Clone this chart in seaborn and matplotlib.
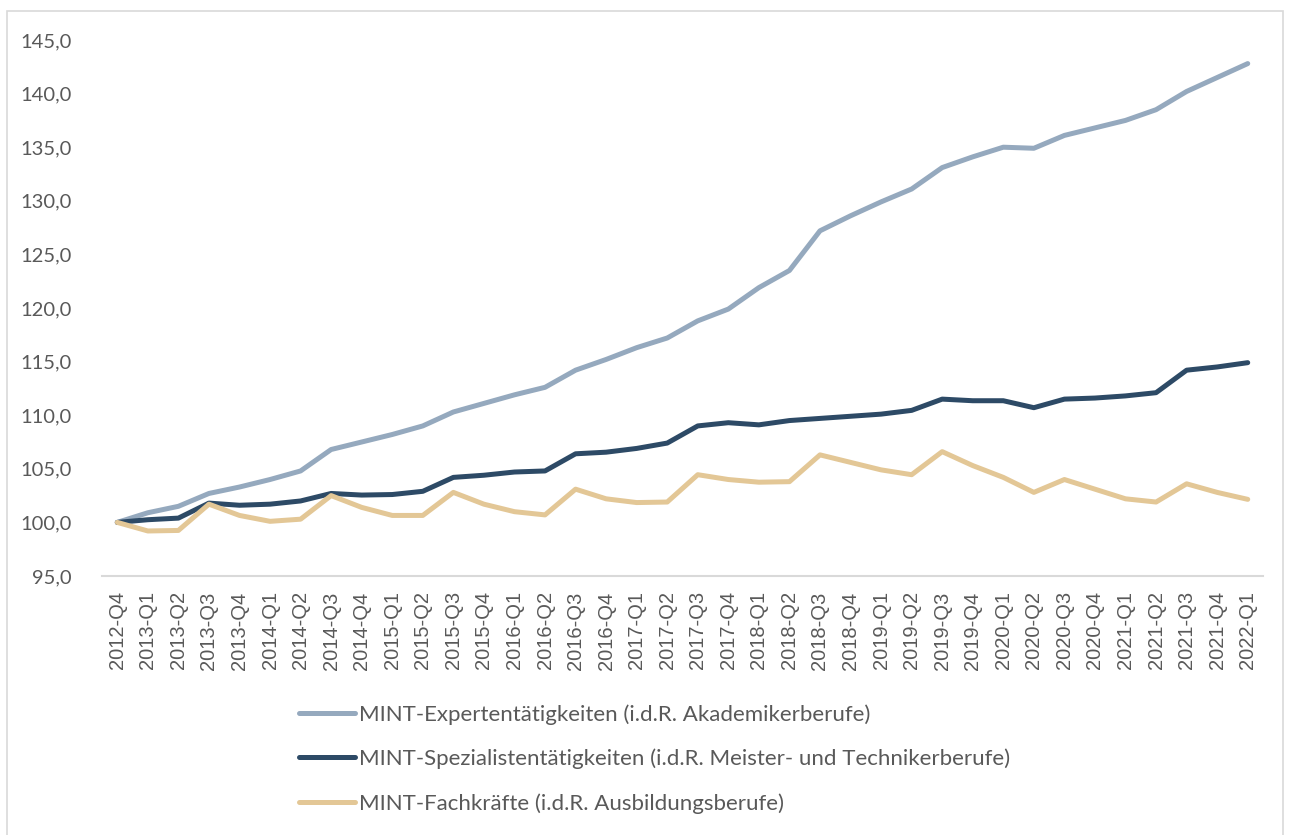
import numpy as np
import pandas as pd
import seaborn as sns
import matplotlib.pyplot as plt
from matplotlib.patches import Rectangle

quarters = [
    "2012-Q4",
    "2013-Q1", "2013-Q2", "2013-Q3", "2013-Q4",
    "2014-Q1", "2014-Q2", "2014-Q3", "2014-Q4",
    "2015-Q1", "2015-Q2", "2015-Q3", "2015-Q4",
    "2016-Q1", "2016-Q2", "2016-Q3", "2016-Q4",
    "2017-Q1", "2017-Q2", "2017-Q3", "2017-Q4",
    "2018-Q1", "2018-Q2", "2018-Q3", "2018-Q4",
    "2019-Q1", "2019-Q2", "2019-Q3", "2019-Q4",
    "2020-Q1", "2020-Q2", "2020-Q3", "2020-Q4",
    "2021-Q1", "2021-Q2", "2021-Q3", "2021-Q4",
    "2022-Q1",
]

experten = [
    100.0, 100.9, 101.5, 102.7, 103.3, 104.0, 104.8, 106.8, 107.5, 108.2,
    109.0, 110.3, 111.1, 111.9, 112.6, 114.2, 115.2, 116.3, 117.2, 118.8,
    119.9, 121.9, 123.5, 127.2, 128.6, 129.9, 131.1, 133.1, 134.1, 135.0,
    134.9, 136.1, 136.8, 137.5, 138.5, 140.2, 141.5, 142.8,
]
spezialisten = [
    100.0, 100.25, 100.4, 101.8, 101.6, 101.7, 102.0, 102.7, 102.55, 102.6,
    102.9, 104.2, 104.4, 104.7, 104.8, 106.4, 106.55, 106.9, 107.4, 109.0,
    109.3, 109.1, 109.5, 109.7, 109.9, 110.1, 110.45, 111.5, 111.35, 111.35,
    110.7, 111.5, 111.6, 111.8, 112.1, 114.2, 114.5, 114.9,
]
fachkraefte = [
    100.0, 99.2, 99.25, 101.7, 100.65, 100.1, 100.3, 102.5, 101.4, 100.65,
    100.65, 102.8, 101.7, 101.0, 100.7, 103.1, 102.2, 101.85, 101.9, 104.45,
    104.0, 103.75, 103.8, 106.3, 105.6, 104.9, 104.45, 106.6, 105.3, 104.2,
    102.8, 104.0, 103.1, 102.2, 101.9, 103.6, 102.8, 102.15,
]

series_names = [
    "MINT-Expertentätigkeiten (i.d.R. Akademikerberufe)",
    "MINT-Spezialistentätigkeiten (i.d.R. Meister- und Technikerberufe)",
    "MINT-Fachkräfte (i.d.R. Ausbildungsberufe)",
]
colors = ["#95A9BE", "#2D4A66", "#E3C796"]

df = pd.concat([
    pd.DataFrame({"quarter": quarters, "value": vals, "series": name})
    for name, vals in zip(series_names, [experten, spezialisten, fachkraefte])
])

sns.set_style("white")
plt.rcParams["font.family"] = ["Lato", "DejaVu Sans"]

fig = plt.figure(figsize=(12.9, 8.35), dpi=100)
ax = fig.add_axes([102 / 1290, 1 - 576 / 835, (1263 - 102) / 1290, (576 - 40) / 835])

sns.lineplot(data=df, x="quarter", y="value", hue="series", palette=colors,
             linewidth=3.6, sort=False, ax=ax, legend=False)
for line in ax.get_lines():
    line.set_solid_capstyle("round")
    line.set_solid_joinstyle("round")

ax.set_xlim(-0.5, len(quarters) - 0.5)
ax.set_ylim(95, 145)
ax.set_yticks(np.arange(95, 146, 5))
ax.set_yticklabels([f"{v:.1f}".replace(".", ",") for v in np.arange(95, 146, 5)])
ax.set_xticks(range(len(quarters)))
ax.set_xticklabels(quarters, rotation=90, family=["Liberation Sans", "DejaVu Sans"],
                   fontsize=14.5)
ax.tick_params(axis="y", labelsize=14.5, colors="#595959", length=0, pad=22)
ax.tick_params(axis="x", colors="#595959", length=0, pad=11)
ax.set_xlabel("")
ax.set_ylabel("")
for side in ["top", "right", "left"]:
    ax.spines[side].set_visible(False)
ax.spines["bottom"].set_color("#D9D9D9")
ax.spines["bottom"].set_linewidth(1.5)

handles = [plt.Line2D([], [], color=c, linewidth=3.6, solid_capstyle="round") for c in colors]
fig.legend(handles, series_names, loc="upper left", bbox_to_anchor=(299 / 1290, 1 - 704 / 835),
           frameon=False, fontsize=16, handlelength=2.5, handletextpad=0.18,
           labelspacing=1.08, borderpad=0, borderaxespad=0, labelcolor="#595959")

fig.patches.append(Rectangle((7 / 1290, -0.01), 1276 / 1290, 1 - 11 / 835 + 0.01,
                             transform=fig.transFigure, fill=False,
                             edgecolor="#D9D9D9", linewidth=1.2))

fig.savefig("out.png", dpi=100)
